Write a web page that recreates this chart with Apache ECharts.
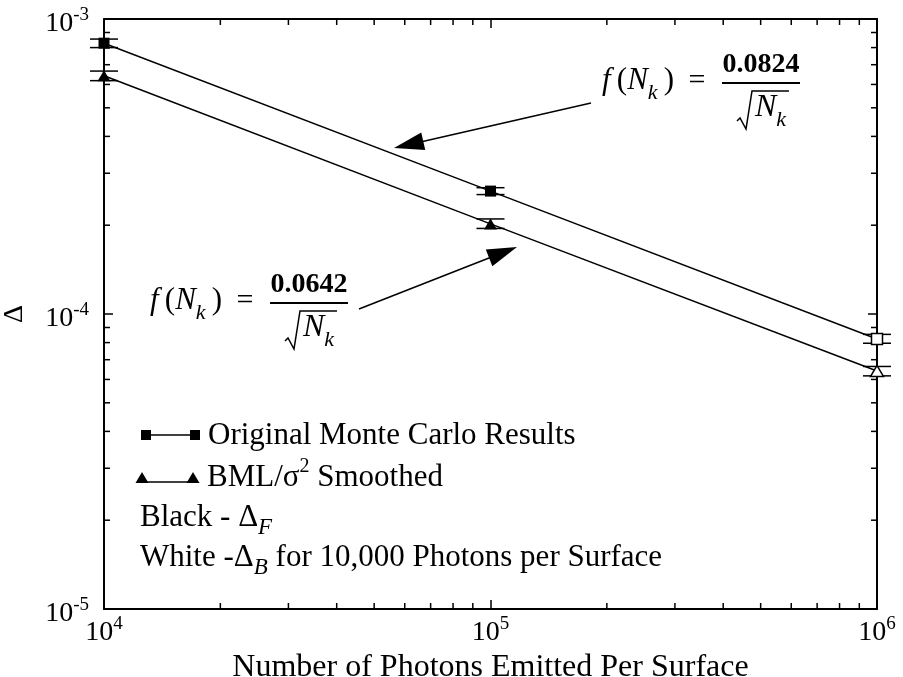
<!DOCTYPE html>
<html>
<head>
<meta charset="utf-8">
<script src="https://cdn.jsdelivr.net/npm/echarts@6/dist/echarts.min.js"></script>
<style>
html,body{margin:0;padding:0;background:#fff;}
#chart{width:903px;height:677px;}
</style>
</head>
<body>
<div id="chart"></div>
<script>
// Convergence of the exchange-factor error with the number of emitted photons
const photons = [1e4, 1e5, 1e6];
const originalDelta = [8.28e-4, 2.61e-4, 8.23e-5];
const originalLow   = [8.00e-4, 2.54e-4, 7.96e-5];
const originalHigh  = [8.55e-4, 2.68e-4, 8.53e-5];
const smoothedDelta = [6.42e-4, 2.02e-4, 6.41e-5];
const smoothedLow   = [6.18e-4, 1.95e-4, 6.17e-5];
const smoothedHigh  = [6.66e-4, 2.10e-4, 6.64e-5];
// last point of each series is the backward estimate (open marker)
const isBackward = [false, false, true];

const xTickExponents = [4, 5, 6];
const yTickExponents = [-5, -4, -3];

const seriesNames = ['Original Monte Carlo Results', 'BML/σ² Smoothed'];
const fitOriginal = '0.0824';
const fitSmoothed = '0.0642';

const F = '"Liberation Serif", "Times New Roman", serif';
const xMin = Math.pow(10, xTickExponents[0]);
const xMax = Math.pow(10, xTickExponents[xTickExponents.length - 1]);
const yMin = Math.pow(10, yTickExponents[0]);
const yMax = Math.pow(10, yTickExponents[yTickExponents.length - 1]);

// minor tick positions 2..9 within each decade
function minorTicks(exps) {
  const out = [];
  for (let i = 0; i < exps.length - 1; i++) {
    for (let m = 2; m <= 9; m++) out.push(m * Math.pow(10, exps[i]));
  }
  return out;
}
const minorX = minorTicks(xTickExponents);
const minorY = minorTicks(yTickExponents);

const chart = echarts.init(document.getElementById('chart'), null, {renderer: 'canvas'});

const expLabel = (margin) => ({
  margin: margin,
  formatter: v => '{b|10}{s|' + Math.round(Math.log10(v)) + '}',
  rich: {
    b: {fontSize: 28, fontFamily: F, color: '#000', lineHeight: 38, verticalAlign: 'bottom'},
    s: {fontSize: 19, fontFamily: F, color: '#000', lineHeight: 38, verticalAlign: 'top', padding: [6, 0, 0, 0]}
  }
});

const frameLine = {show: true, lineStyle: {color: '#000', width: 2}};
const majorTick = {show: true, inside: true, length: 9, lineStyle: {color: '#000', width: 1.5}};

function pointData(vals) {
  return photons.map((x, i) => isBackward[i]
    ? {value: [x, vals[i]], itemStyle: {color: '#fff', borderColor: '#000', borderWidth: 1.5}}
    : {value: [x, vals[i]]});
}

function errorSeries(lo, hi) {
  return {
    type: 'custom', silent: true, z: 2,
    encode: {x: 0, y: [1, 2]},
    data: photons.map((x, i) => [x, lo[i], hi[i]]),
    renderItem(params, api) {
      const a = api.coord([api.value(0), api.value(2)]);
      const b = api.coord([api.value(0), api.value(1)]);
      const w = 14;
      const st = {stroke: '#000', lineWidth: 1.5};
      return {type: 'group', children: [
        {type: 'line', shape: {x1: a[0], y1: a[1], x2: b[0], y2: b[1]}, style: st},
        {type: 'line', shape: {x1: a[0] - w, y1: a[1], x2: a[0] + w, y2: a[1]}, style: st},
        {type: 'line', shape: {x1: b[0] - w, y1: b[1], x2: b[0] + w, y2: b[1]}, style: st}
      ]};
    }
  };
}

function tickLine(x1, y1, x2, y2) {
  return {type: 'line', shape: {x1, y1, x2, y2}, style: {stroke: '#000', lineWidth: 1.5}};
}

const minorXSeries = {
  type: 'custom', silent: true, z: 1,
  encode: {x: 0, y: 1},
  data: minorX.map(v => [v, yMin]),
  renderItem(params, api) {
    const v = api.value(0);
    const b = api.coord([v, yMin]);
    const t = api.coord([v, yMax]);
    return {type: 'group', children: [
      tickLine(b[0], b[1], b[0], b[1] - 6),
      tickLine(t[0], t[1], t[0], t[1] + 6)
    ]};
  }
};

const minorYSeries = {
  type: 'custom', silent: true, z: 1,
  encode: {x: 0, y: 1},
  data: minorY.map(v => [xMin, v]),
  renderItem(params, api) {
    const v = api.value(1);
    const l = api.coord([xMin, v]);
    const r = api.coord([xMax, v]);
    return {type: 'group', children: [
      tickLine(l[0], l[1], l[0] + 6, l[1]),
      tickLine(r[0], r[1], r[0] - 6, r[1])
    ]};
  }
};

// ---------- annotations: fitted-curve formulas with arrows ----------
function formula(L, B, num) {
  const it = {fontSize: 31, fontFamily: F, fontStyle: 'italic', lineHeight: 46};
  const rm = {fontSize: 31, fontFamily: F, lineHeight: 46};
  const sub = {fontSize: 22, fontFamily: F, fontStyle: 'italic', lineHeight: 46, verticalAlign: 'bottom'};
  return [
    {type: 'text', z: 10, style: {text: '{i|f}{r|\u2009(}{i|N}{k|k}{r|\u2009)}', x: L, y: B - 2, align: 'left', verticalAlign: 'middle',
      fill: '#000', rich: {i: it, r: rm, k: sub}}},
    {type: 'text', z: 10, style: {text: '=', x: L + 95, y: B - 2, align: 'center', verticalAlign: 'middle',
      fill: '#000', fontSize: 30, fontFamily: F}},
    {type: 'text', z: 10, style: {text: num, x: L + 159, y: B - 18, align: 'center', verticalAlign: 'middle',
      fill: '#000', fontSize: 28, fontWeight: 'bold', fontFamily: F}},
    {type: 'line', z: 10, shape: {x1: L + 120, y1: B, x2: L + 198, y2: B}, style: {stroke: '#000', lineWidth: 2}},
    {type: 'polyline', z: 10, shape: {points: [[L + 135, B + 38], [L + 138, B + 35], [L + 144, B + 46], [L + 150, B + 8], [L + 187, B + 8]]},
      style: {stroke: '#000', lineWidth: 1.5, fill: null}},
    {type: 'text', z: 10, style: {text: '{i|N}{k|k}', x: L + 153, y: B + 25, align: 'left', verticalAlign: 'middle',
      fill: '#000', rich: {i: {fontSize: 32, fontFamily: F, fontStyle: 'italic', lineHeight: 46}, k: sub}}}
  ];
}

function arrow(tail, tip) {
  const dx = tip[0] - tail[0], dy = tip[1] - tail[1];
  const len = Math.hypot(dx, dy);
  const ux = dx / len, uy = dy / len;
  const hl = 30, hw = 9;
  const bx = tip[0] - ux * hl, by = tip[1] - uy * hl;
  return [
    {type: 'line', z: 10, shape: {x1: tail[0], y1: tail[1], x2: bx + ux * 4, y2: by + uy * 4}, style: {stroke: '#000', lineWidth: 1.5}},
    {type: 'polygon', z: 10, shape: {points: [tip, [bx - uy * hw, by + ux * hw], [bx + uy * hw, by - ux * hw]]}, style: {fill: '#000'}}
  ];
}

// ---------- legend block ----------
const legendText = {fontSize: 31, fontFamily: F, lineHeight: 42};
const legendSub = {fontSize: 23, fontFamily: F, fontStyle: 'italic', lineHeight: 42, verticalAlign: 'bottom'};
const legendSup = {fontSize: 20, fontFamily: F, lineHeight: 42, verticalAlign: 'top'};
function legendLine(x, y, text) {
  return {type: 'text', z: 10, style: {text, x, y, align: 'left', verticalAlign: 'middle', fill: '#000',
    rich: {n: legendText, sub: legendSub, sup: legendSup}}};
}
const legendItems = [
  {type: 'line', shape: {x1: 146, y1: 435, x2: 195, y2: 435}, style: {stroke: '#000', lineWidth: 1.5}},
  {type: 'rect', shape: {x: 141, y: 430, width: 10, height: 10}, style: {fill: '#000'}},
  {type: 'rect', shape: {x: 190, y: 430, width: 10, height: 10}, style: {fill: '#000'}},
  {type: 'line', shape: {x1: 142, y1: 482, x2: 193, y2: 482}, style: {stroke: '#000', lineWidth: 1.5}},
  {type: 'polygon', shape: {points: [[142, 472], [148.5, 483], [135.5, 483]]}, style: {fill: '#000'}},
  {type: 'polygon', shape: {points: [[193, 472], [199.5, 483], [186.5, 483]]}, style: {fill: '#000'}},
  legendLine(208, 436, '{n|' + seriesNames[0] + '}'),
  legendLine(207, 478, '{n|BML/σ}{sup|2}{n| Smoothed}'),
  legendLine(140, 518, '{n|Black - Δ}{sub|F}'),
  legendLine(140, 558, '{n|White -Δ}{sub|B}{n| for 10,000 Photons per Surface}')
];

const option = {
  backgroundColor: '#fff',
  animation: false,
  grid: {left: 104, right: 26, top: 19, bottom: 68, containLabel: false, outerBoundsMode: 'none'},
  xAxis: [
    {type: 'log', logBase: 10, min: xMin, max: xMax, position: 'bottom',
      axisLine: frameLine, axisTick: majorTick, splitLine: {show: false}, minorTick: {show: false},
      axisLabel: expLabel(0),
      name: 'Number of Photons Emitted Per Surface', nameLocation: 'middle', nameGap: 35,
      nameTextStyle: {fontSize: 32, fontFamily: F, color: '#000'}},
    {type: 'log', logBase: 10, min: xMin, max: xMax, position: 'top',
      axisLine: frameLine, axisTick: majorTick, splitLine: {show: false}, axisLabel: {show: false}}
  ],
  yAxis: [
    {type: 'log', logBase: 10, min: yMin, max: yMax, position: 'left',
      axisLine: frameLine, axisTick: majorTick, splitLine: {show: false}, minorTick: {show: false},
      axisLabel: expLabel(15),
      name: 'Δ', nameLocation: 'middle', nameGap: 75,
      nameTextStyle: {fontSize: 28, fontFamily: F, color: '#000'}},
    {type: 'log', logBase: 10, min: yMin, max: yMax, position: 'right',
      axisLine: frameLine, axisTick: majorTick, splitLine: {show: false}, axisLabel: {show: false}}
  ],
  series: [
    minorXSeries,
    minorYSeries,
    errorSeries(originalLow, originalHigh),
    errorSeries(smoothedLow, smoothedHigh),
    {name: seriesNames[0], type: 'line', z: 3, data: pointData(originalDelta),
      symbol: 'rect', symbolSize: 11, showSymbol: true,
      lineStyle: {color: '#000', width: 1.5}, itemStyle: {color: '#000'}},
    {name: seriesNames[1], type: 'line', z: 3, data: pointData(smoothedDelta),
      symbol: 'triangle', symbolSize: [13, 11], showSymbol: true,
      lineStyle: {color: '#000', width: 1.5}, itemStyle: {color: '#000'}}
  ],
  graphic: [
    ...formula(602, 83, fitOriginal),
    ...arrow([591, 103], [394, 148]),
    ...formula(150, 303, fitSmoothed),
    ...arrow([359, 309], [517, 247]),
    ...legendItems
  ]
};

chart.setOption(option);
</script>
</body>
</html>
